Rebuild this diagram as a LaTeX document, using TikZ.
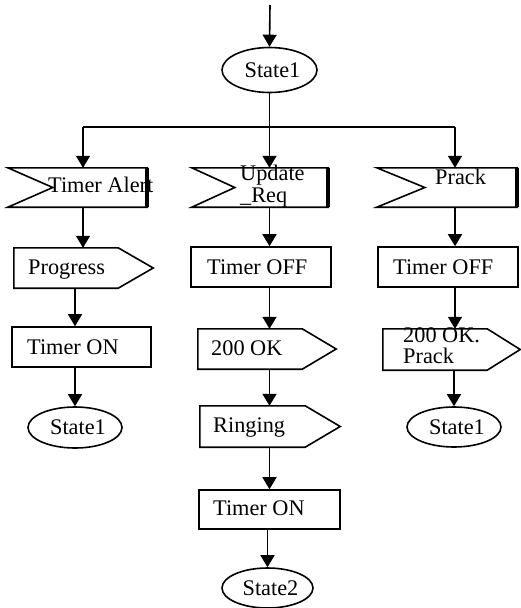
\documentclass[tikz,border=0pt]{standalone}
\usepackage{fontspec}
\setmainfont{Liberation Serif}
\usetikzlibrary{arrows.meta,shapes.geometric,calc}
\newcommand\sendout[2]{\draw[ln] (#1.north west) -- (#1.north east) -- ($(#1.east)+(#2,0)$) -- (#1.south east) -- (#1.south west) -- cycle;}
\newcommand\recvin[2]{\draw[ln] (#1.north west) -- ($(#1.west)+(#2,0)$) -- (#1.south west) -- (#1.south east) -- (#1.north east) -- cycle;
  \draw[line width=3.5pt] (#1.north east) -- (#1.south east);}
\begin{document}
\begin{tikzpicture}[x=1pt,y=-1pt,
  every node/.style={font=\fontsize{22.3pt}{21.5pt}\selectfont},
  ln/.style={line width=1.6pt},
  arr/.style={ln,-{Triangle[length=12pt,width=14pt]}},
  shp/.style={rectangle,inner sep=0pt,draw=none},
  box/.style={rectangle,draw,ln,inner sep=0pt},
  st/.style={ellipse,draw,ln,inner sep=0pt},
  lbl/.style={anchor=base west,inner sep=0pt},
  lbl2/.style={anchor=north west,inner sep=0pt,align=left}]
\useasboundingbox (0,0) rectangle (520,608);

% top
\coordinate (top) at (270,5);
\node[st,minimum width=95pt,minimum height=45pt] (s0) at (269.5,70) {\hspace*{6pt}State1};
\coordinate (split) at (269.5,127);
\coordinate (xL) at (83,127);
\coordinate (xR) at (455,127);

% receive boxes
\node[shp,minimum width=139pt,minimum height=39pt] (ta) at (77.5,187.5) {};
\node[shp,minimum width=136pt,minimum height=39pt] (ur) at (260,187.5) {};
\node[shp,minimum width=140pt,minimum height=39pt] (pr) at (447,187.5) {};

% column 1
\node[shp,minimum width=104pt,minimum height=40pt] (pg) at (66,268) {};
\node[box,minimum width=139pt,minimum height=40pt] (ton1) at (81.5,347) {};
\node[st,minimum width=94pt,minimum height=41pt] (s1a) at (75,427.5) {\hspace*{6pt}State1};

% column 2
\node[box,minimum width=140pt,minimum height=40pt] (toff2) at (261,267) {};
\node[shp,minimum width=104pt,minimum height=40pt] (ok2) at (250,349) {};
\node[shp,minimum width=105pt,minimum height=41pt] (rg) at (252.5,426.5) {};
\node[box,minimum width=141pt,minimum height=39pt] (ton2) at (269.5,509.5) {};
\node[st,minimum width=91pt,minimum height=40pt] (s2) at (267.5,588) {\hspace*{6pt}State2};

% column 3
\node[box,minimum width=140pt,minimum height=40pt] (toff3) at (448,267) {};
\node[shp,minimum width=104pt,minimum height=41pt] (okp) at (435,349.5) {};
\node[st,minimum width=94pt,minimum height=40pt] (s1b) at (454,427) {\hspace*{6pt}State1};

% labels
\node[lbl] (tTA) at (48,192) {Timer Alert};
\node[lbl2] (tUR) at (240,165) {Update\\\_Req};
\node[lbl] (tPR) at (435,184) {Prack};
\node[lbl] (tPG) at (28,274) {Progress};
\node[lbl] (tON1) at (27,354) {Timer ON};
\node[lbl] (tOFF2) at (207,274) {Timer OFF};
\node[lbl] (tOK2) at (211,355) {200 OK};
\node[lbl] (tRG) at (213,432.5) {Ringing};
\node[lbl] (tON2) at (213,515) {Timer ON};
\node[lbl] (tOFF3) at (393,274) {Timer OFF};
\node[lbl2] (tOKP) at (403,327) {200 OK.\\Prack};

% outlines
\recvin{ta}{45}
\recvin{ur}{43}
\recvin{pr}{48}
\sendout{pg}{35}
\sendout{ok2}{34}
\sendout{rg}{35}
\sendout{okp}{33}

% connectors
\draw[arr] (top) -- (s0.north);
\draw[ln] (s0.south) -- (split);
\draw[ln] (xL) -- (xR);
\draw[arr] (xL) -- (ta.north -| xL);
\draw[arr] (split) -- (ur.north -| split);
\draw[arr] (xR) -- (pr.north -| xR);

\draw[arr] (ta.south -| xL) -- (pg.north -| xL);
\draw[arr] (pg.south -| s1a) -- (ton1.north -| s1a);
\draw[arr] (ton1.south -| s1a) -- (s1a.north);

\draw[arr] (ur.south -| split) -- (toff2.north -| split);
\draw[arr] (toff2.south -| split) -- (ok2.north -| split);
\draw[arr] (ok2.south -| split) -- (rg.north -| split);
\draw[arr] (rg.south -| split) -- (ton2.north -| split);
\draw[arr] (ton2.south -| s2) -- (s2.north);

\draw[arr] (pr.south -| xR) -- (toff3.north -| xR);
\draw[arr] (toff3.south -| xR) -- (okp.north -| xR);
\draw[arr] (okp.south -| s1b) -- (s1b.north);
\end{tikzpicture}
\end{document}
